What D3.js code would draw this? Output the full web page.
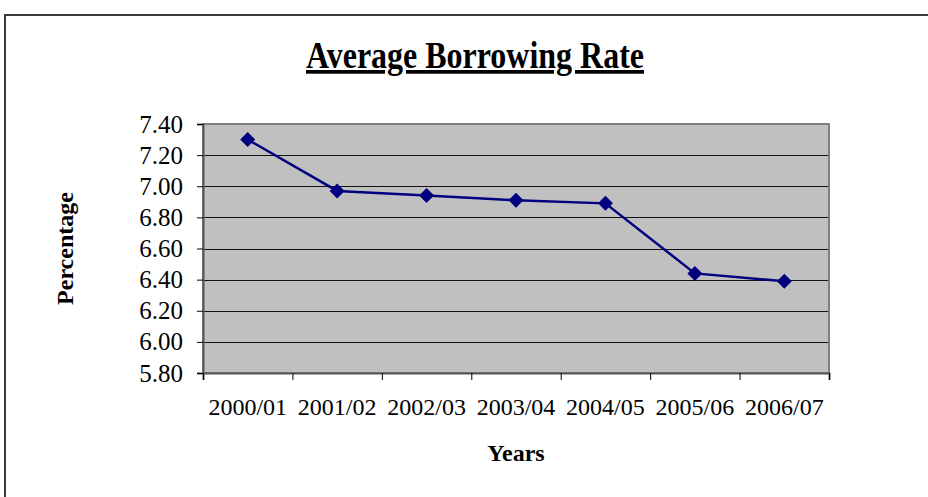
<!DOCTYPE html>
<html>
<head>
<meta charset="utf-8">
<script src="https://cdn.jsdelivr.net/npm/d3@7"></script>
<style>
  body { margin: 0; background: #fff; }
  svg { display: block; font-family: "Liberation Serif", "Times New Roman", serif; }
</style>
</head>
<body>
<div id="chart"></div>
<script>
const years = ["2000/01", "2001/02", "2002/03", "2003/04", "2004/05", "2005/06", "2006/07"];
const rates = [7.30, 6.97, 6.94, 6.91, 6.89, 6.44, 6.39];
const yTicks = [5.8, 6.0, 6.2, 6.4, 6.6, 6.8, 7.0, 7.2, 7.4];

const width = 928, height = 497;
const plot = { left: 203, top: 124, right: 829, bottom: 373 };

const svg = d3.select("#chart").append("svg")
    .attr("width", width)
    .attr("height", height);

// outer chart frame
svg.append("rect")
    .attr("x", 5).attr("y", 15)
    .attr("width", 960).attr("height", 520)
    .attr("fill", "#fff")
    .attr("stroke", "#3a3a3a")
    .attr("stroke-width", 2);

const x = d3.scaleBand().domain(years).range([plot.left, plot.right]).padding(0);
const xEdge = d3.scaleLinear().domain([0, years.length]).range([plot.left, plot.right]);
const y = d3.scaleLinear().domain([5.8, 7.4]).range([plot.bottom, plot.top]);

// plot area background
svg.append("rect")
    .attr("x", plot.left).attr("y", plot.top)
    .attr("width", plot.right - plot.left)
    .attr("height", plot.bottom - plot.top)
    .attr("fill", "#c0c0c0");

// gridlines
svg.selectAll(".grid")
    .data(yTicks.slice(1, -1))
    .enter()
    .append("line")
    .attr("class", "grid")
    .attr("x1", plot.left).attr("x2", plot.right)
    .attr("y1", d => Math.round(y(d)) + 0.5)
    .attr("y2", d => Math.round(y(d)) + 0.5)
    .attr("stroke", "#111")
    .attr("stroke-width", 1);

// plot border (top/right gray)
svg.append("rect")
    .attr("x", plot.left).attr("y", plot.top)
    .attr("width", plot.right - plot.left)
    .attr("height", plot.bottom - plot.top)
    .attr("fill", "none")
    .attr("stroke", "#808080")
    .attr("stroke-width", 2);

// y axis
const yAxis = svg.append("g")
    .attr("transform", `translate(${plot.left},0)`)
    .call(d3.axisLeft(y).tickValues(yTicks).tickFormat(d3.format(".2f")).tickSize(6).tickPadding(14));
yAxis.select(".domain").attr("stroke", "#555").attr("stroke-width", 2);
yAxis.selectAll(".tick line").attr("stroke", "#000");
yAxis.selectAll("text")
    .attr("fill", "#000")
    .style("font-family", "'Liberation Serif', serif")
    .style("font-size", "25px");

// x axis: boundary tick marks
const xTickAxis = svg.append("g")
    .attr("transform", `translate(0,${plot.bottom})`)
    .call(d3.axisBottom(xEdge).tickValues(d3.range(years.length + 1)).tickFormat("").tickSize(7));
xTickAxis.select(".domain").attr("stroke", "#555").attr("stroke-width", 2);
xTickAxis.selectAll(".tick line").attr("stroke", "#000");

// x axis: category labels
const xLabelAxis = svg.append("g")
    .attr("transform", `translate(0,${plot.bottom})`)
    .call(d3.axisBottom(x).tickSize(0).tickPadding(25));
xLabelAxis.select(".domain").remove();
xLabelAxis.selectAll("text")
    .attr("fill", "#000")
    .style("font-family", "'Liberation Serif', serif")
    .style("font-size", "24px");

// line
const line = d3.line()
    .x((d, i) => x(years[i]) + x.bandwidth() / 2)
    .y(d => y(d));

svg.append("path")
    .datum(rates)
    .attr("fill", "none")
    .attr("stroke", "#000080")
    .attr("stroke-width", 2.5)
    .attr("d", line);

// diamond markers
svg.selectAll(".marker")
    .data(rates)
    .enter()
    .append("path")
    .attr("class", "marker")
    .attr("transform", (d, i) => `translate(${x(years[i]) + x.bandwidth() / 2},${y(d)})`)
    .attr("d", "M0,-7.5L7.5,0L0,7.5L-7.5,0Z")
    .attr("fill", "#000080");

// title
svg.append("text")
    .attr("x", 306).attr("y", 68)
    .attr("textLength", 338)
    .attr("lengthAdjust", "spacingAndGlyphs")
    .style("font-size", "37px")
    .style("font-weight", "bold")
    .style("text-decoration", "underline")
    .text("Average Borrowing Rate");

// axis titles
svg.append("text")
    .attr("x", (plot.left + plot.right) / 2).attr("y", 461)
    .attr("text-anchor", "middle")
    .style("font-size", "24px")
    .style("font-weight", "bold")
    .text("Years");

svg.append("text")
    .attr("transform", `translate(73,${(plot.top + plot.bottom) / 2}) rotate(-90)`)
    .attr("text-anchor", "middle")
    .style("font-size", "24px")
    .style("font-weight", "bold")
    .text("Percentage");
</script>
</body>
</html>
